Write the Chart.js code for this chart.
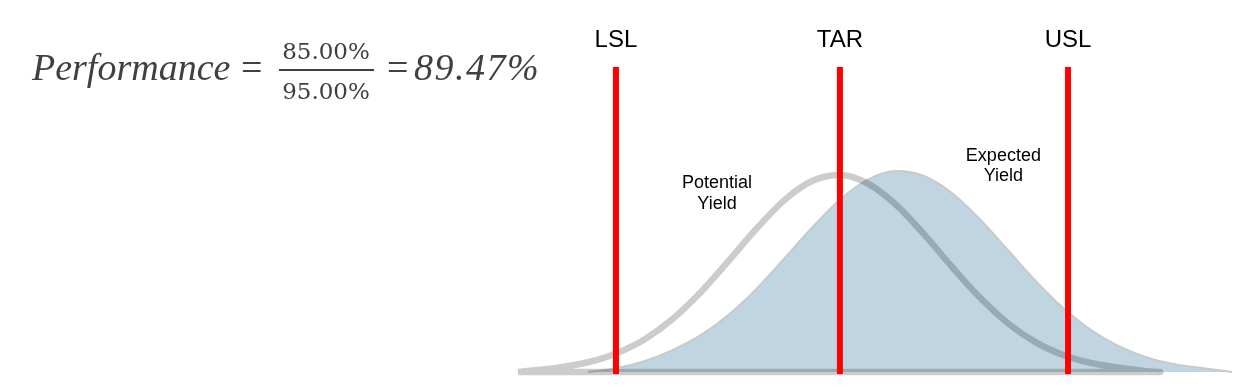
<!DOCTYPE html>
<html>
<head>
<meta charset="utf-8">
<script src="https://cdn.jsdelivr.net/npm/chart.js@4"></script>
<style>
  html, body { margin: 0; padding: 0; background: #fff; overflow: hidden; }
  #wrap { position: relative; width: 1246px; height: 390px; }
  #yieldChart { position: absolute; left: 0; top: 0; }
  .f { position: absolute; color: #404040; font-family: "Liberation Serif", "Times New Roman", serif; line-height: 1; white-space: nowrap; }
  .big { font-size: 38px; }
  .it { font-style: italic; }
  .frac { font-family: "DejaVu Serif", serif; font-size: 23px; width: 100px; text-align: center; }
  #bar { position: absolute; left: 279px; top: 69px; width: 95px; height: 2px; background: #404040; }
</style>
</head>
<body>
<div id="wrap">
  <canvas id="yieldChart" width="1246" height="390"></canvas>
  <div class="f big it" style="left:32px; top:48px;">Performance</div>
  <div class="f big" style="left:241px; top:48px;">=</div>
  <div class="f frac" style="left:276px; top:40px;">85.00%</div>
  <div id="bar"></div>
  <div class="f frac" style="left:276px; top:80px;">95.00%</div>
  <div class="f big" style="left:387px; top:48px;">=</div>
  <div class="f big it" style="left:414px; top:48px; letter-spacing:1.5px;">89.47%</div>
</div>
<script>
// spec limits
const specLabels = ["LSL", "TAR", "USL"];
const specValues = [10, 50, 90.75];

// potential yield curve (grey outline)
const potentialX = [-7.5, 0, 5, 10, 15, 20, 25, 30, 35, 40, 45, 50, 55, 60, 65, 70, 75, 80, 85, 90, 95, 100, 107.2];
const potentialY = [0, 1.5, 3.2, 6.1, 10.6, 17.2, 25.9, 36.2, 46.8, 56.2, 62.6, 64.6, 61.8, 54.9, 45.2, 34.5, 24.4, 16.0, 9.7, 5.5, 2.9, 1.4, 0];

// expected yield curve (blue filled)
const expectedX = [5, 10, 15, 20, 25, 30, 35, 40, 45, 50, 55, 60, 65, 70, 75, 80, 85, 90, 95, 100, 105, 110, 115, 120];
const expectedY = [0, 1.2, 3.5, 7.1, 11.9, 18.6, 27.1, 37.1, 47.3, 56.5, 63.1, 65.9, 64.3, 58.7, 50.1, 40.0, 29.8, 20.8, 13.6, 8.3, 4.7, 2.5, 1.2, 0];

// grey curve goes out along the bell and back along the baseline
const potentialPts = potentialX.map((x, i) => ({ x, y: potentialY[i] }));
const lastPt = potentialPts[potentialPts.length - 1];
potentialPts.push({ x: lastPt.x, y: 0 });
potentialPts.push({ x: potentialX[0], y: 0 });

const expectedPts = expectedX.map((x, i) => ({ x, y: expectedY[i] }));

const specSets = specValues.map((v) => ({
  data: [{ x: v, y: -0.66 }, { x: v, y: 100 }],
  showLine: true,
  borderColor: "#ff0000",
  borderWidth: 6,
  borderCapStyle: "butt",
  pointRadius: 0,
  clip: false,
  order: 0,
}));

// text above the limits and the two curve notes
const labelPlugin = {
  id: "labelPlugin",
  afterDatasetsDraw(chart) {
    const { ctx, scales: { x, y } } = chart;
    ctx.save();
    ctx.fillStyle = "#000";
    ctx.textAlign = "center";
    ctx.textBaseline = "alphabetic";
    ctx.font = '24px "Liberation Sans", Arial, sans-serif';
    specLabels.forEach((t, i) => {
      ctx.fillText(t, x.getPixelForValue(specValues[i]), y.getPixelForValue(106.5));
    });
    ctx.font = '18px "Liberation Sans", Arial, sans-serif';
    ctx.fillText("Potential", x.getPixelForValue(28.05), y.getPixelForValue(60.4));
    ctx.fillText("Yield", x.getPixelForValue(28.05), y.getPixelForValue(53.4));
    ctx.fillText("Expected", x.getPixelForValue(79.2), y.getPixelForValue(69.2));
    ctx.fillText("Yield", x.getPixelForValue(79.2), y.getPixelForValue(62.6));
    ctx.restore();
  },
};

const ctx = document.getElementById("yieldChart").getContext("2d");
new Chart(ctx, {
  type: "scatter",
  data: {
    datasets: [
      ...specSets,
      {
        data: potentialPts,
        showLine: true,
        borderColor: "rgba(0, 0, 0, 0.2)",
        borderWidth: 6.5,
        borderJoinStyle: "round",
        cubicInterpolationMode: "monotone",
        pointRadius: 0,
        fill: false,
        clip: false,
        order: 1,
      },
      {
        data: expectedPts,
        showLine: true,
        borderColor: "#c9c9c9",
        borderWidth: 2,
        backgroundColor: "#bfd5e1",
        cubicInterpolationMode: "monotone",
        pointRadius: 0,
        fill: "origin",
        clip: false,
        order: 2,
      },
    ],
  },
  options: {
    responsive: false,
    animation: false,
    devicePixelRatio: 1,
    events: [],
    layout: { padding: { left: 504, right: 3, top: 67, bottom: 18 } },
    plugins: { legend: { display: false }, tooltip: { enabled: false } },
    scales: {
      x: { type: "linear", min: -10, max: 122, display: false },
      y: { type: "linear", min: 0, max: 100, display: false },
    },
  },
  plugins: [labelPlugin],
});
</script>
</body>
</html>
